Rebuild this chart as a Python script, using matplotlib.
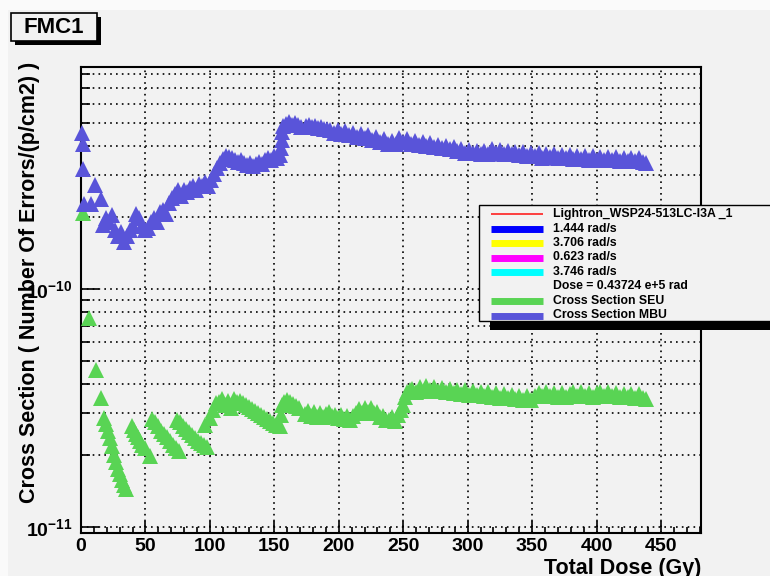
import matplotlib
matplotlib.use('Agg')
import matplotlib.pyplot as plt
from matplotlib.patches import Rectangle
from matplotlib.lines import Line2D
from matplotlib.ticker import FixedLocator, NullFormatter, MultipleLocator
import numpy as np

plt.rcParams['font.family'] = 'Liberation Sans'
plt.rcParams['font.weight'] = 'bold'
plt.rcParams['mathtext.fontset'] = 'custom'
plt.rcParams['mathtext.rm'] = 'Liberation Sans:bold'
plt.rcParams['mathtext.it'] = 'Liberation Sans:bold'
plt.rcParams['mathtext.bf'] = 'Liberation Sans:bold'

# ---- data (dose in Gy, cross section in units of 1e-10) ----
seu_dose = [1.6, 6.2, 11.6, 15.5,
            17.8, 19.4, 20.9, 22.5, 24.0, 25.6, 27.1, 28.7, 30.2, 31.8, 33.3, 34.9,
            39.5, 41.1, 42.6, 44.2, 45.7, 47.3, 49.6, 53.5,
            55.0, 57.4, 59.7, 62.0, 64.3, 66.7, 69.0, 71.3, 73.6, 76.0,
            74.4, 76.7, 79.1, 81.4, 83.7, 86.0, 88.4, 90.7, 93.0, 95.3, 97.7,
            96.1, 100.0, 102.3, 104.7, 107.0, 109.3, 111.6, 114.0, 116.3, 118.6, 120.9,
            123.3, 125.6, 127.9, 130.2, 132.6, 134.9, 137.2, 139.5, 141.9, 144.2, 146.5, 148.8, 151.2,
            154.3, 155.0, 155.8, 157.4, 159.7, 162.0, 164.3, 166.7, 169.0,
            173.6, 176.0, 178.3, 180.6, 182.9, 185.3, 187.6, 189.9, 192.2, 194.6,
            196.9, 199.2, 201.6, 203.9, 206.2, 208.5, 210.9, 213.2, 215.5, 217.8, 220.2,
            222.5, 224.8, 227.1, 229.5, 231.8, 234.1, 236.4, 238.8, 241.1, 243.4,
            245.7, 248.1, 249.6, 251.2, 252.7, 255.0,
            257, 260, 263, 266, 268, 271, 274, 277, 280, 283, 286, 289, 292, 295, 298,
            301, 304, 307, 310, 313, 316, 319, 322, 325, 328, 331, 334, 337, 340, 343,
            346, 349, 352, 355, 358, 361, 364, 367, 370, 373, 376, 379, 382, 385, 388,
            391, 394, 397, 400, 403, 406, 409, 412, 415, 418, 421, 424, 427, 430, 433,
            436, 438]
seu_xs = [2.08, 0.756, 0.457, 0.349,
          0.287, 0.271, 0.253, 0.237, 0.219, 0.201, 0.188, 0.176, 0.167, 0.157, 0.150, 0.145,
          0.266, 0.256, 0.246, 0.239, 0.230, 0.221, 0.215, 0.198,
          0.285, 0.275, 0.265, 0.254, 0.246, 0.239, 0.230, 0.221, 0.215, 0.209,
          0.282, 0.275, 0.266, 0.259, 0.251, 0.244, 0.237, 0.230, 0.226, 0.221, 0.217,
          0.268, 0.288, 0.310, 0.331, 0.335, 0.344, 0.326, 0.338, 0.316, 0.345, 0.335,
          0.338, 0.332, 0.326, 0.319, 0.313, 0.307, 0.301, 0.296, 0.290, 0.285, 0.279, 0.274, 0.268,
          0.266, 0.296, 0.326, 0.335, 0.342, 0.335, 0.329, 0.322, 0.316,
          0.298, 0.306, 0.293, 0.303, 0.291, 0.300, 0.289, 0.298, 0.305, 0.293,
          0.296, 0.287, 0.296, 0.285, 0.294, 0.282, 0.292, 0.300, 0.312, 0.302, 0.315,
          0.304, 0.315, 0.302, 0.303, 0.291, 0.292, 0.282, 0.281, 0.289, 0.280,
          0.296, 0.310, 0.327, 0.352, 0.369, 0.376,
          0.380, 0.368, 0.386, 0.372, 0.390, 0.376, 0.388, 0.372, 0.384, 0.368, 0.382, 0.366, 0.378, 0.362, 0.375,
          0.360, 0.373, 0.358, 0.371, 0.356, 0.368, 0.353, 0.366, 0.350, 0.362, 0.347, 0.359, 0.345, 0.356, 0.343,
          0.355, 0.342, 0.354, 0.366, 0.354, 0.368, 0.354, 0.366, 0.352, 0.365, 0.351, 0.364, 0.370, 0.356, 0.369,
          0.355, 0.367, 0.353, 0.366, 0.370, 0.356, 0.368, 0.354, 0.366, 0.352, 0.364, 0.351, 0.363, 0.350, 0.362,
          0.348, 0.345]

mbu_dose = [0.8, 1.2, 1.6, 2.0, 7.8, 10.9, 15.5,
            17.1, 19.4, 21.7, 24.0, 26.4, 28.7, 31.0, 33.3, 35.7, 38.0, 40.3, 42.6, 45.0,
            47.3, 49.6, 51.9, 54.3, 56.6, 58.9, 61.2, 63.6, 65.9, 68.2, 70.5, 72.9, 75.2,
            77.5, 79.8, 82.2, 84.5, 86.8, 89.1, 91.5, 93.8, 96.1, 98.4, 100.8, 103.1, 105.4,
            107.8, 110.1, 112.4, 114.7, 117.1, 119.4, 121.7, 124.0, 126.4, 128.7, 131.0,
            133.3, 135.7, 138.0, 140.3, 142.6, 145.0, 147.3, 149.6, 151.9, 154.3,
            155.0, 155.8, 155.8, 156.6, 158.9, 161.2, 163.6, 165.9, 168.2, 170.5,
            174.4, 176.7, 179.1, 181.4, 183.7, 186.0, 188.4, 190.7,
            193, 196, 199, 202, 205, 208, 211, 214, 217, 220, 223, 226, 229, 232, 235, 238,
            241, 244, 247, 250, 253, 256, 259, 262, 265, 268, 271, 274, 277, 280, 283, 286,
            289, 292, 295, 298, 301, 304, 307, 310, 313, 316, 319, 322, 325, 328, 331, 334,
            337, 340, 343, 346, 349, 352, 355, 358, 361, 364, 367, 370, 373, 376, 379, 382,
            385, 388, 391, 394, 397, 400, 403, 406, 409, 412, 415, 418, 421, 424, 427, 430,
            433, 436, 438]
mbu_xs = [4.52, 4.07, 3.19, 2.28, 2.28, 2.73, 2.39,
          1.86, 1.99, 1.91, 2.05, 1.77, 1.67, 1.74, 1.58, 1.67, 1.77, 1.84, 2.06, 1.99,
          1.84, 1.77, 1.80, 1.91, 1.99, 1.91, 2.11, 2.15, 2.07, 2.30, 2.41, 2.51, 2.61,
          2.46, 2.61, 2.56, 2.66, 2.71, 2.61, 2.76, 2.71, 2.82, 2.71, 2.87, 3.04, 3.22,
          3.38, 3.52, 3.62, 3.59, 3.55, 3.48, 3.41, 3.48, 3.38, 3.32, 3.38,
          3.28, 3.35, 3.41, 3.35, 3.48, 3.55, 3.48, 3.62, 3.55, 3.66,
          3.91, 4.23, 4.56, 4.83, 4.93, 5.03, 4.89, 4.98, 4.89, 4.79,
          4.84, 4.89, 4.79, 4.84, 4.74, 4.79, 4.70, 4.70,
          4.66, 4.54, 4.66, 4.48, 4.60, 4.42, 4.54, 4.36, 4.48, 4.30, 4.42, 4.22, 4.34, 4.14, 4.26, 4.08,
          4.20, 4.06, 4.30, 4.16, 4.26, 4.08, 4.20, 4.04, 4.14, 3.98, 4.09, 3.94, 4.04, 3.90, 4.00, 3.86,
          3.96, 3.81, 3.87, 3.74, 3.84, 3.72, 3.82, 3.70, 3.80, 3.68, 3.88, 3.74, 3.84, 3.70, 3.80, 3.68,
          3.78, 3.66, 3.76, 3.64, 3.74, 3.62, 3.72, 3.56, 3.70, 3.60, 3.70, 3.56, 3.67, 3.54, 3.65, 3.53,
          3.64, 3.51, 3.62, 3.50, 3.61, 3.48, 3.60, 3.49, 3.59, 3.47, 3.58, 3.46, 3.57, 3.45, 3.56, 3.44,
          3.54, 3.43, 3.40]

legend_labels = ['Lightron_WSP24-513LC-I3A _1', '1.444 rad/s', '3.706 rad/s', '0.623 rad/s',
                 '3.746 rad/s', 'Dose = 0.43724 e+5 rad', 'Cross Section SEU', 'Cross Section MBU']
legend_colors = ['#ff2020', '#0000ff', '#ffff00', '#ff00ff', '#00ffff', None, '#59d454', '#5954d9']

SEU_COLOR = '#59d454'
MBU_COLOR = '#5954d9'
BG = '#f2f2f2'

W, H = 770, 576
fig = plt.figure(figsize=(W / 100, H / 100), dpi=100)
fig.patch.set_facecolor('#fafafa')


def fx(px):
    return px / W


def fy(py):
    return 1 - py / H


def frect(x0, y0, x1, y1, **kw):
    # rectangle given in pixel coords (top-left origin)
    r = Rectangle((fx(x0), fy(y1)), fx(x1) - fx(x0), fy(y0) - fy(y1),
                  transform=fig.transFigure, **kw)
    fig.add_artist(r)
    return r


# canvas inner area
frect(8, 10, 800, 600, facecolor=BG, edgecolor='none', zorder=-5)

ax = fig.add_axes([fx(81), fy(533), fx(701) - fx(81), fy(67) - fy(533)])
ax.set_facecolor(BG)

ax.plot(seu_dose, np.array(seu_xs) * 1e-10, ls='none', marker='^', ms=11,
        mfc=SEU_COLOR, mec=SEU_COLOR, mew=0, clip_on=False, zorder=3)
ax.plot(mbu_dose, np.array(mbu_xs) * 1e-10, ls='none', marker='^', ms=11,
        mfc=MBU_COLOR, mec=MBU_COLOR, mew=0, clip_on=False, zorder=3)

ax.set_yscale('log')
ax.set_xlim(0, 481)
ax.set_ylim(0.944e-11, 8.57e-10)

ax.xaxis.set_major_locator(MultipleLocator(50))
ax.xaxis.set_minor_locator(MultipleLocator(10))
ax.yaxis.set_major_locator(FixedLocator([1e-11, 1e-10]))
ax.yaxis.set_minor_locator(FixedLocator([k * 10.0 ** e for e in (-11, -10) for k in range(2, 10)]))
ax.yaxis.set_minor_formatter(NullFormatter())
ax.set_yticks([1e-11, 1e-10], labels=[r'$10^{-11}$', r'$10^{-10}$'])
ax.set_xticks(np.arange(0, 451, 50), labels=[str(v) for v in range(0, 451, 50)])

grid_kw = dict(color='black', linestyle=(0, (1, 2.5)), linewidth=1.2)
ax.xaxis.grid(True, which='major', **grid_kw)
ax.yaxis.grid(True, which='both', **grid_kw)
ax.set_axisbelow(True)

ax.tick_params(axis='both', which='both', direction='in', top=False, right=False, width=1.2)
ax.tick_params(axis='x', which='major', length=8.6, pad=3.5, labelsize=14)
ax.tick_params(axis='x', which='minor', length=4.3)
ax.tick_params(axis='y', which='major', length=13, pad=6, labelsize=14)
ax.tick_params(axis='y', which='minor', length=6.5)
for s in ax.spines.values():
    s.set_linewidth(1.5)

# axis titles
fig.text(fx(30), fy(62), 'Cross Section ( Number Of Errors/(p/cm2) )', rotation=90,
         ha='center', va='top', fontsize=15.5, fontweight='bold')
fig.text(fx(701), fy(558), 'Total Dose (Gy)', ha='right', va='top',
         fontsize=15.5, fontweight='bold')

# title box
frect(15, 17, 101, 45, facecolor='black', edgecolor='none', zorder=5)
frect(11, 13, 97, 41, facecolor=BG, edgecolor='black', linewidth=1.2, zorder=6)
fig.text(fx(54), fy(27.5), 'FMC1', ha='center', va='center', fontsize=16,
         fontweight='bold', zorder=7)

# legend box
frect(490, 212, 800, 330, facecolor='black', edgecolor='none', zorder=5)
frect(479, 205, 800, 321, facecolor=BG, edgecolor='black', linewidth=1.0, zorder=6)
row_y = [214, 228.5, 243, 257.5, 272, 286.5, 301, 315.5]
for yy, lab, col in zip(row_y, legend_labels, legend_colors):
    if col is not None:
        lw = 1.2 if lab.startswith('Lightron') else 5
        fig.add_artist(Line2D([fx(491), fx(543)], [fy(yy), fy(yy)], color=col, lw=lw,
                              transform=fig.transFigure, zorder=7, solid_capstyle='butt'))
    fig.text(fx(553), fy(yy), lab, ha='left', va='center', fontsize=8.8,
             fontweight='bold', zorder=7)

fig.savefig('out.png', dpi=100, facecolor=fig.get_facecolor())
